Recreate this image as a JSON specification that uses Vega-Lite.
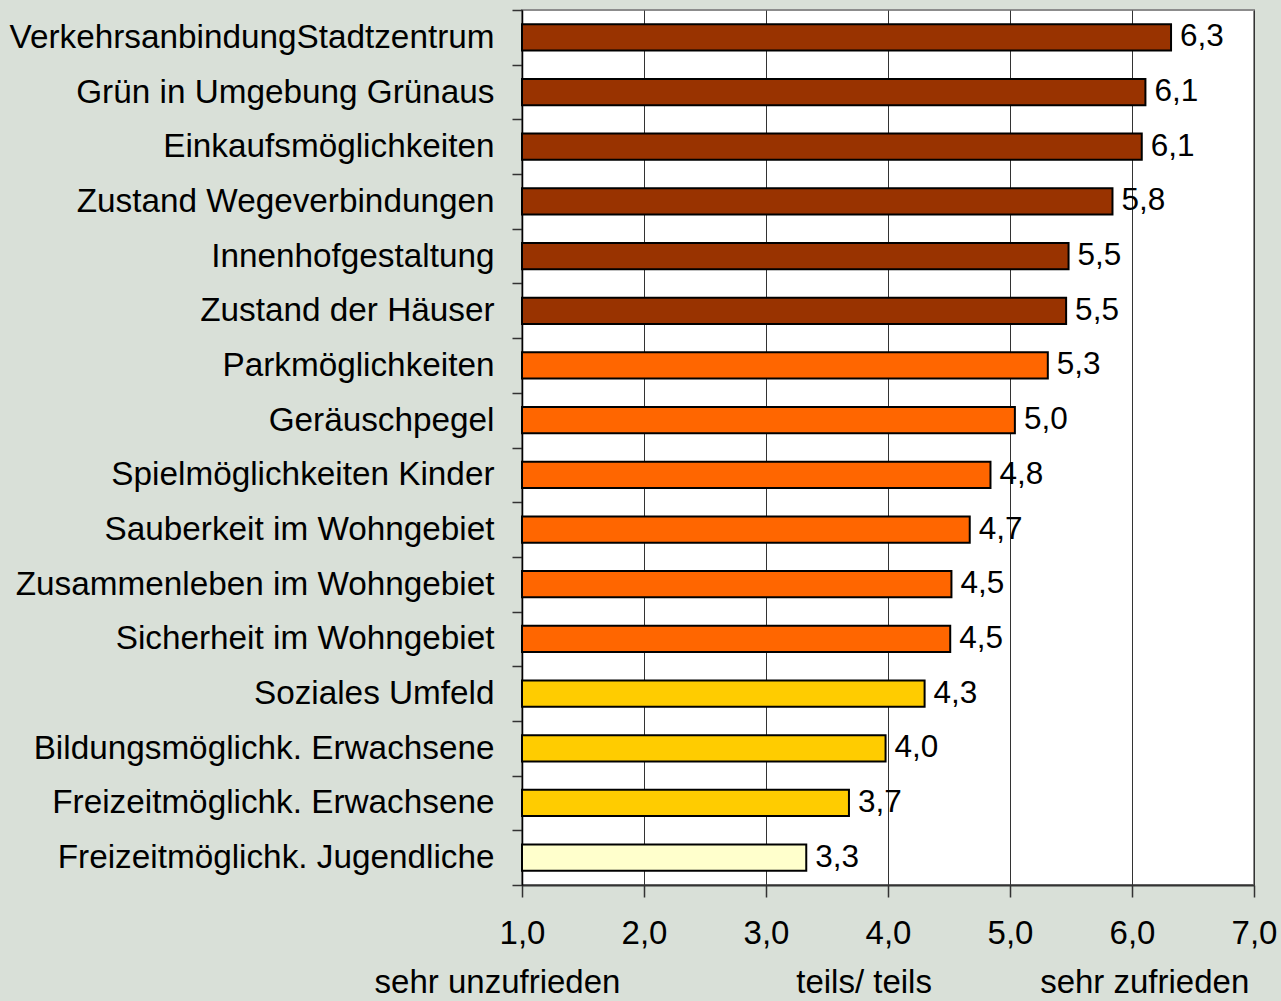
{
  "$schema": "https://vega.github.io/schema/vega-lite/v6.json",
  "width": 732,
  "height": 875,
  "autosize": {"type": "none"},
  "padding": {"left": 522, "top": 10, "right": 27, "bottom": 116},
  "background": "#d9e0d8",
  "config": {
    "font": "Liberation Sans",
    "view": {"stroke": "#8c8c8c", "strokeWidth": 2, "fill": "white"}
  },
  "datasets": {
    "bars": [
      {"item": "VerkehrsanbindungStadtzentrum", "value": 6.32, "label": "6,3", "group": "a"},
      {"item": "Grün in Umgebung Grünaus", "value": 6.11, "label": "6,1", "group": "a"},
      {"item": "Einkaufsmöglichkeiten", "value": 6.08, "label": "6,1", "group": "a"},
      {"item": "Zustand Wegeverbindungen", "value": 5.84, "label": "5,8", "group": "a"},
      {"item": "Innenhofgestaltung", "value": 5.48, "label": "5,5", "group": "a"},
      {"item": "Zustand der Häuser", "value": 5.46, "label": "5,5", "group": "a"},
      {"item": "Parkmöglichkeiten", "value": 5.31, "label": "5,3", "group": "b"},
      {"item": "Geräuschpegel", "value": 5.04, "label": "5,0", "group": "b"},
      {"item": "Spielmöglichkeiten Kinder", "value": 4.84, "label": "4,8", "group": "b"},
      {"item": "Sauberkeit im Wohngebiet", "value": 4.67, "label": "4,7", "group": "b"},
      {"item": "Zusammenleben im Wohngebiet", "value": 4.52, "label": "4,5", "group": "b"},
      {"item": "Sicherheit im Wohngebiet", "value": 4.51, "label": "4,5", "group": "b"},
      {"item": "Soziales Umfeld", "value": 4.30, "label": "4,3", "group": "c"},
      {"item": "Bildungsmöglichk. Erwachsene", "value": 3.98, "label": "4,0", "group": "c"},
      {"item": "Freizeitmöglichk. Erwachsene", "value": 3.68, "label": "3,7", "group": "c"},
      {"item": "Freizeitmöglichk. Jugendliche", "value": 3.33, "label": "3,3", "group": "d"}
    ],
    "notes": [
      {"pos": 1.0, "text": "sehr unzufrieden"},
      {"pos": 3.8, "text": "teils/ teils"},
      {"pos": 6.1, "text": "sehr zufrieden"}
    ]
  },
  "layer": [
    {
      "data": {"name": "bars"},
      "mark": {"type": "bar", "height": {"band": 0.48}, "stroke": "black", "strokeWidth": 2},
      "encoding": {
        "y": {
          "field": "item", "type": "nominal", "sort": null, "title": null,
          "scale": {"paddingInner": 0, "paddingOuter": 0},
          "axis": {
            "tickBand": "extent", "tickSize": 10, "tickColor": "#333", "tickWidth": 1.5,
            "domainColor": "black", "domainWidth": 1.5,
            "labelFontSize": 33.3, "labelColor": "black", "labelPadding": 18,
            "labelLimit": 0, "labelFont": "Liberation Sans", "grid": false
          }
        },
        "x": {
          "field": "value", "type": "quantitative", "title": null,
          "scale": {"domain": [1, 7], "nice": false, "zero": false},
          "axis": {
            "orient": "bottom",
            "values": [1, 2, 3, 4, 5, 6, 7],
            "labelExpr": "replace(format(datum.value, '.1f'), '.', ',')",
            "grid": true, "gridColor": "#333", "gridWidth": 1,
            "tickSize": 12, "tickColor": "#333", "tickWidth": 1.5,
            "domainColor": "#333", "domainWidth": 2,
            "labelFontSize": 33, "labelColor": "black", "labelPadding": 20,
            "labelFont": "Liberation Sans", "labelFlush": false
          }
        },
        "x2": {"datum": 1},
        "color": {
          "field": "group", "type": "nominal", "legend": null,
          "scale": {"domain": ["a", "b", "c", "d"], "range": ["#993300", "#ff6600", "#ffcc00", "#ffffcc"]}
        }
      }
    },
    {
      "data": {"name": "bars"},
      "mark": {"type": "text", "align": "left", "baseline": "middle", "dx": 9, "fontSize": 31.5, "color": "black", "font": "Liberation Sans"},
      "encoding": {
        "y": {"field": "item", "type": "nominal", "sort": null},
        "x": {"field": "value", "type": "quantitative", "axis": null, "scale": {"domain": [1, 7], "nice": false, "zero": false}},
        "text": {"field": "label"}
      }
    },
    {
      "data": {"name": "notes"},
      "mark": {"type": "rule", "opacity": 0},
      "encoding": {
        "x": {
          "field": "pos", "type": "quantitative", "title": null,
          "scale": {"domain": [1, 7], "nice": false, "zero": false},
          "axis": {
            "orient": "bottom",
            "values": [1, 3.8, 6.1],
            "labelExpr": "datum.value == 1 ? 'sehr unzufrieden' : (datum.value < 5 ? 'teils/ teils' : 'sehr zufrieden')",
            "labelOffset": {"condition": {"test": "datum.value == 1", "value": -25}, "value": 0},
            "grid": false, "ticks": false, "tickSize": 0, "domain": false,
            "labelFontSize": 33, "labelColor": "black", "labelPadding": 81,
            "labelLimit": 0,
            "labelFont": "Liberation Sans", "labelFlush": false, "labelOverlap": false
          }
        }
      }
    }
  ],
  "resolve": {"axis": {"x": "independent"}}
}
